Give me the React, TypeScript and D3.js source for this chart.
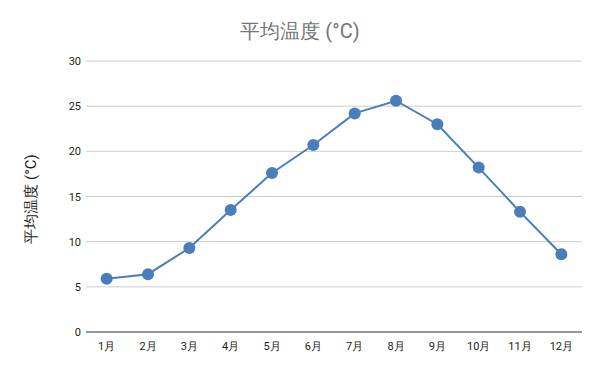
import React, { useEffect, useRef } from 'react';
import * as d3 from 'd3';

const months = ['1月', '2月', '3月', '4月', '5月', '6月', '7月', '8月', '9月', '10月', '11月', '12月'];
const temps = [5.9, 6.4, 9.3, 13.5, 17.6, 20.7, 24.2, 25.6, 23.0, 18.2, 13.3, 8.6];
const yTicks = [0, 5, 10, 15, 20, 25, 30];

export default function App() {
  const ref = useRef<SVGSVGElement>(null);

  useEffect(() => {
    const svg = d3.select(ref.current);
    svg.selectAll('*').remove();
    const left = 86;
    const right = 582;
    const top = 61;
    const bottom = 332;
    const font = 'Roboto, Arial, sans-serif';

    const x = d3.scaleBand().domain(months).range([left, right]);
    const y = d3.scaleLinear().domain([0, 30]).range([bottom, top]);

    svg.append('rect').attr('width', 600).attr('height', 371).attr('fill', '#fff');

    svg
      .append('text')
      .attr('x', 300)
      .attr('y', 38)
      .attr('text-anchor', 'middle')
      .style('font-family', font)
      .style('font-size', '20px')
      .attr('fill', '#757575')
      .text('平均温度 (°C)');

    // grid
    svg
      .append('g')
      .selectAll('line')
      .data(yTicks.filter(t => t > 0))
      .enter()
      .append('line')
      .attr('x1', left)
      .attr('x2', right)
      .attr('y1', d => y(d))
      .attr('y2', d => y(d))
      .attr('stroke', '#cccccc')
      .attr('stroke-width', 1);

    svg
      .append('line')
      .attr('x1', left)
      .attr('x2', right)
      .attr('y1', y(0))
      .attr('y2', y(0))
      .attr('stroke', '#333')
      .attr('stroke-width', 1);

    svg
      .append('g')
      .selectAll('text')
      .data(yTicks)
      .enter()
      .append('text')
      .attr('x', 81)
      .attr('y', d => y(d) + 4)
      .attr('text-anchor', 'end')
      .style('font-family', font)
      .style('font-size', '11px')
      .attr('fill', '#222')
      .text(d => d);

    svg
      .append('g')
      .selectAll('text')
      .data(months)
      .enter()
      .append('text')
      .attr('x', d => (x(d) as number) + x.bandwidth() / 2)
      .attr('y', 350)
      .attr('text-anchor', 'middle')
      .style('font-family', font)
      .style('font-size', '11px')
      .attr('fill', '#222')
      .text(d => d);

    svg
      .append('text')
      .attr('transform', `translate(36, 199) rotate(-90)`)
      .attr('text-anchor', 'middle')
      .style('font-family', font)
      .style('font-size', '15px')
      .attr('fill', '#222')
      .text('平均温度 (°C)');

    const line = d3
      .line<number>()
      .x((d, i) => (x(months[i]) as number) + x.bandwidth() / 2)
      .y(d => y(d));

    svg
      .append('path')
      .attr('d', line(temps))
      .attr('fill', 'none')
      .attr('stroke', '#4a7ebb')
      .attr('stroke-width', 2);

    svg
      .append('g')
      .selectAll('circle')
      .data(temps)
      .enter()
      .append('circle')
      .attr('cx', (d, i) => (x(months[i]) as number) + x.bandwidth() / 2)
      .attr('cy', d => y(d))
      .attr('r', 6)
      .attr('fill', '#4a7ebb');
  }, []);

  return (
    <svg
      ref={ref}
      width={600}
      height={371}
      style={{ position: 'absolute', left: 0, top: 0, display: 'block' }}
    />
  );
}
